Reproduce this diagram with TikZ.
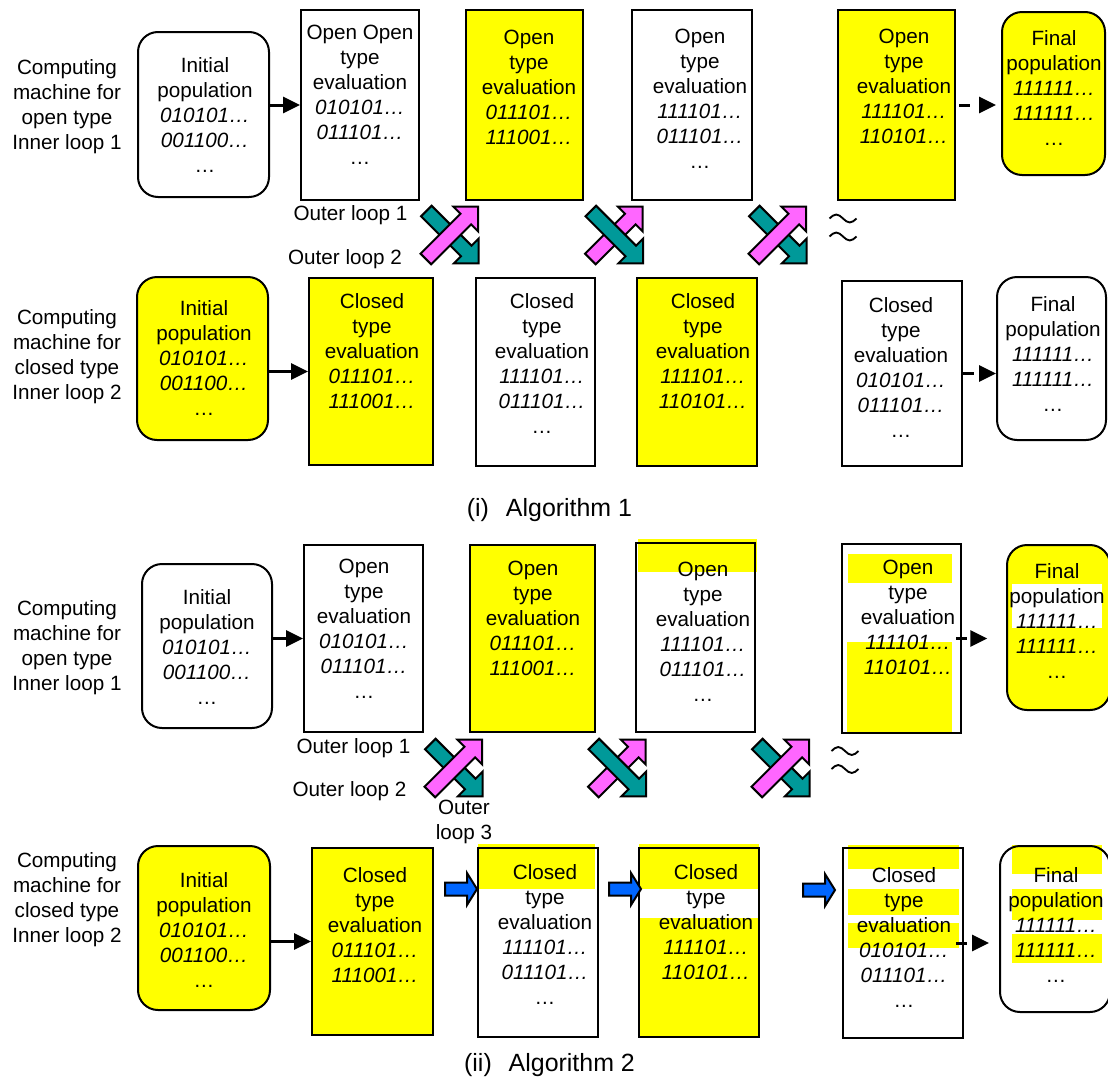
\documentclass[tikz,border=0pt]{standalone}
\usepackage{fontspec}
\setmainfont{Liberation Sans}
\usetikzlibrary{arrows.meta,fit}
\definecolor{hiyellow}{RGB}{255,255,0}
\definecolor{tealc}{RGB}{0,153,153}
\definecolor{pinkc}{RGB}{255,102,255}
\definecolor{bluec}{RGB}{0,102,255}
\newcommand\bt[1]{\textit{#1…}}
\newcommand\fs{\fontsize{15.5}{18.75}\selectfont}
\newcommand\fst{\fontsize{18.7}{22}\selectfont}
\tikzset{
  box/.style={draw, line width=1.5pt, inner sep=0pt},
  ybox/.style={box, fill=hiyellow},
  rbox/.style={box, rounded corners=15pt},
  yrbox/.style={rbox, fill=hiyellow},
  txt/.style={anchor=north, align=center, inner sep=0pt, font=\fs},
  lbl/.style={anchor=center, align=center, inner sep=0pt, font=\fs},
  ttl/.style={anchor=center, inner sep=0pt, font=\fst},
  conn/.style={line width=2.25pt, -{Triangle[length=12.75pt,width=12pt]}},
  dconn/.style={conn, dash pattern=on 8.25pt off 40pt},
  pics/blockarr/.style={code={
    \path[pic actions] (-37,-7.5) -- (19.5,-7.5) -- (19.5,-17.5) -- (37,0) -- (19.5,17.5) -- (19.5,7.5) -- (-37,7.5) -- cycle;}},
  pics/bluearr/.style={code={
    \path[pic actions] (0,-6.5) -- (22,-6.5) -- (22,-16) -- (32,0) -- (22,16) -- (22,6.5) -- (0,6.5) -- cycle;}},
  pics/approxsign/.style={code={
    \draw[line width=1.4pt] (-13.5,-9) sin (-6.75,-13) cos (0,-9) sin (6.75,-5) cos (13.5,-9);
    \draw[line width=1.4pt] (-13.5,9) sin (-6.75,5) cos (0,9) sin (6.75,13) cos (13.5,9);}},
  tealarr/.style={draw, fill=tealc, line width=1.5pt, line join=miter, rotate=-45},
  pinkarr/.style={draw, fill=pinkc, line width=1.5pt, line join=miter, rotate=45},
  barr/.style={draw, fill=bluec, line width=1.5pt},
}
\begin{document}
\begin{tikzpicture}[x=0.75pt,y=-0.75pt]
\useasboundingbox[fill=white] (0,0) rectangle (1108,1082);

% ================= Algorithm 1 =================
% row 1
\node[lbl, anchor=north] (lab1a) at (67,59) {Computing\\machine for\\open type\\Inner loop 1};
\node[rbox, fit={(138,32) (269,197)}] (init1a) {};
\node[box, fit={(301,10) (419,200)}] (b1a2) {};
\node[ybox, fit={(466,10) (583,200)}] (b1a3) {};
\node[box, fit={(632,10) (752,200)}] (b1a4) {};
\node[ybox, fit={(838,10) (955,200)}] (b1a5) {};
\node[yrbox, fit={(1002,12) (1105,175)}] (fin1a) {};
\node[txt] (t1a1) at (205,57) {Initial\\population\\\bt{010101}\\\bt{001100}\\…};
\node[txt] (t1a2) at (360,25) {Open Open\\type\\evaluation\\\bt{010101}\\\bt{011101}\\…};
\node[txt] (t1a3) at (529,30) {Open\\type\\evaluation\\\bt{011101}\\\bt{111001}};
\node[txt] (t1a4) at (700,29) {Open\\type\\evaluation\\\bt{111101}\\\bt{011101}\\…};
\node[txt] (t1a5) at (904,29) {Open\\type\\evaluation\\\bt{111101}\\\bt{110101}};
\node[txt] (t1a6) at (1054,30) {Final\\population\\\bt{111111}\\\bt{111111}\\…};
\draw[conn] (init1a.east |- b1a2.west) -- (b1a2.west);
\draw[dconn, shorten <=2.25pt, shorten >=3.75pt] (b1a5.east) -- (fin1a.west |- b1a5.east);

% outer loops
\node[lbl] (ol1a) at (350.5,215) {Outer loop 1};
\node[lbl] (ol2a) at (345,259) {Outer loop 2};
\pic[tealarr] at (452.5,237.2) {blockarr};
\pic[pinkarr] at (452,232.8) {blockarr};
\pic[pinkarr] at (616.5,232.8) {blockarr};
\pic[tealarr] at (617,237.2) {blockarr};
\pic[tealarr] at (780.5,237.2) {blockarr};
\pic[pinkarr] at (780,232.8) {blockarr};
\pic at (843,227.5) {approxsign};

% row 2
\node[lbl, anchor=north] (lab1b) at (67,309) {Computing\\machine for\\closed type\\Inner loop 2};
\node[yrbox, fit={(137,277) (268,440)}] (init1b) {};
\node[ybox, fit={(309,278) (433,465)}] (b1b2) {};
\node[box, fit={(476,278) (595,466)}] (b1b3) {};
\node[ybox, fit={(637,278) (757,466)}] (b1b4) {};
\node[box, fit={(842,281) (962,466)}] (b1b5) {};
\node[rbox, fit={(997,277) (1106,440)}] (fin1b) {};
\node[txt] (t1b1) at (204,300) {Initial\\population\\\bt{010101}\\\bt{001100}\\…};
\node[txt] (t1b2) at (372,293) {Closed\\type\\evaluation\\\bt{011101}\\\bt{111001}};
\node[txt] (t1b3) at (542,293) {Closed\\type\\evaluation\\\bt{111101}\\\bt{011101}\\…};
\node[txt] (t1b4) at (703,293) {Closed\\type\\evaluation\\\bt{111101}\\\bt{110101}};
\node[txt] (t1b5) at (901,297) {Closed\\type\\evaluation\\\bt{010101}\\\bt{011101}\\…};
\node[txt] (t1b6) at (1053,296) {Final\\population\\\bt{111111}\\\bt{111111}\\…};
\draw[conn] (init1b.east |- b1b2.west) -- (b1b2.west);
\draw[dconn] (b1b5.east) -- (fin1b.west |- b1b5.east);

\node[ttl] (title1) at (549.5,510) {(i)\hspace{0.68em}Algorithm 1};

% ================= Algorithm 2 =================
% row 1
\node[lbl, anchor=north] (lab2a) at (67,600) {Computing\\machine for\\open type\\Inner loop 1};
\node[rbox, fit={(142,564) (272,728)}] (init2a) {};
\node[box, fit={(304,545) (423,732)}] (b2a2) {};
\node[ybox, fit={(470,545) (595,732)}] (b2a3) {};
\fill[hiyellow] (638,539) rectangle (757,572);
\node[box, fit={(636,543) (755,732)}] (b2a4) {};
\fill[hiyellow] (848,554) rectangle (952,583);
\fill[hiyellow] (847,642) rectangle (952,732);
\node[box, fit={(842,544) (961,733)}] (b2a5) {};
\node[yrbox, fit={(1007,545) (1110,710)}] (fin2a) {};
\fill[white] (1012,584) rectangle (1102,628);
\node[txt] (t2a1) at (207,589) {Initial\\population\\\bt{010101}\\\bt{001100}\\…};
\node[txt] (t2a2) at (364,559) {Open\\type\\evaluation\\\bt{010101}\\\bt{011101}\\…};
\node[txt] (t2a3) at (533,561) {Open\\type\\evaluation\\\bt{011101}\\\bt{111001}};
\node[txt] (t2a4) at (703,562) {Open\\type\\evaluation\\\bt{111101}\\\bt{011101}\\…};
\node[txt] (t2a5) at (908,560) {Open\\type\\evaluation\\\bt{111101}\\\bt{110101}};
\node[txt] (t2a6) at (1057,563) {Final\\population\\\bt{111111}\\\bt{111111}\\…};
\draw[conn] (init2a.east |- b2a2.west) -- (b2a2.west);
\draw[dconn, shorten <=-4.5pt, shorten >=14pt] (b2a5.east) -- (fin2a.west |- b2a5.east);

% outer loops
\node[lbl] (ol1b) at (353.5,748) {Outer loop 1};
\node[lbl] (ol2b) at (349.5,791) {Outer loop 2};
\node[lbl, anchor=north] (ol3b) at (464,800) {Outer\\loop 3};
\pic[tealarr] at (456.5,770.2) {blockarr};
\pic[pinkarr] at (456,765.8) {blockarr};
\pic[pinkarr] at (619.5,765.8) {blockarr};
\pic[tealarr] at (620,770.2) {blockarr};
\pic[tealarr] at (783.5,770.2) {blockarr};
\pic[pinkarr] at (783,765.8) {blockarr};
\pic at (845,760) {approxsign};

% row 2
\node[lbl, anchor=north] (lab2b) at (67,852) {Computing\\machine for\\closed type\\Inner loop 2};
\node[yrbox, fit={(138,846) (270,1010)}] (init2b) {};
\node[ybox, fit={(312,848) (433,1035)}] (b2b2) {};
\fill[hiyellow] (478,844) rectangle (595,889);
\node[box, fit={(478,848) (598,1037)}] (b2b3) {};
\fill[hiyellow] (639,844) rectangle (759,889);
\fill[hiyellow] (639,918) rectangle (759,1037);
\node[box, fit={(639,848) (759,1037)}] (b2b4) {};
\fill[hiyellow] (848,845) rectangle (959,869);
\fill[hiyellow] (848,889) rectangle (959,915);
\fill[hiyellow] (848,923) rectangle (959,948);
\node[box, fit={(843,848) (963,1038)}] (b2b5) {};
\fill[hiyellow] (1012,845) rectangle (1102,874);
\fill[hiyellow] (1012,889) rectangle (1102,920);
\fill[hiyellow] (1012,934) rectangle (1102,963);
\node[rbox, fit={(1000,846) (1110,1012)}] (fin2b) {};
\node[txt] (t2b1) at (204,872) {Initial\\population\\\bt{010101}\\\bt{001100}\\…};
\node[txt] (t2b2) at (375,867) {Closed\\type\\evaluation\\\bt{011101}\\\bt{111001}};
\node[txt] (t2b3) at (545,864) {Closed\\type\\evaluation\\\bt{111101}\\\bt{011101}\\…};
\node[txt] (t2b4) at (706,864) {Closed\\type\\evaluation\\\bt{111101}\\\bt{110101}};
\node[txt] (t2b5) at (904,867) {Closed\\type\\evaluation\\\bt{010101}\\\bt{011101}\\…};
\node[txt] (t2b6) at (1056,867) {Final\\population\\\bt{111111}\\\bt{111111}\\…};
\draw[conn] (init2b.east |- b2b2.west) -- (b2b2.west);
\draw[dconn, shorten <=-6pt, shorten >=7.5pt] (b2b5.east) -- (fin2b.west |- b2b5.east);
\pic[barr] at (445,889) {bluearr};
\pic[barr] at (609,889) {bluearr};
\pic[barr] at (803,890) {bluearr};

\node[ttl] (title2) at (549.5,1065) {(ii)\hspace{0.68em}Algorithm 2};
\end{tikzpicture}
\end{document}
